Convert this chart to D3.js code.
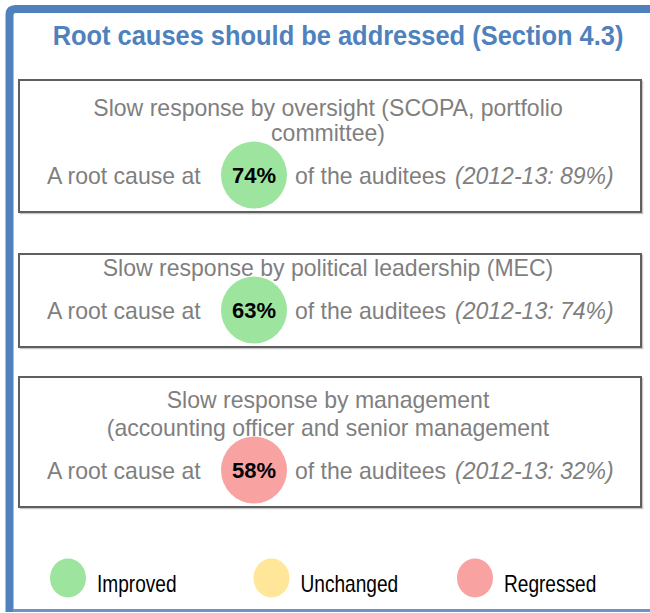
<!DOCTYPE html>
<html>
<head>
<meta charset="utf-8">
<script src="https://cdn.jsdelivr.net/npm/d3@7"></script>
<style>
  html, body { margin: 0; padding: 0; background: #fff; }
  svg { display: block; }
  text { font-family: "Liberation Sans", Arial, sans-serif; }
</style>
</head>
<body>
<svg id="chart" width="650" height="613"></svg>
<script>
// Root causes and the share of auditees where each applies
const titleText = "Root causes should be addressed (Section 4.3)";
const causeLines = [
  ["Slow response by oversight (SCOPA, portfolio", "committee)"],
  ["Slow response by political leadership (MEC)"],
  ["Slow response by management", "(accounting officer and senior management"]
];
const currentPct = [74, 63, 58];
const priorPct = [89, 74, 32];
const priorYear = "2012-13";
const movement = ["Improved", "Improved", "Regressed"];
const legendItems = ["Improved", "Unchanged", "Regressed"];

const color = d3.scaleOrdinal()
  .domain(legendItems)
  .range(["#9de59f", "#ffe699", "#f8a2a2"]);

const svg = d3.select("#chart");
const blue = "#4f81bd";
const grey = "#7f7f7f";

// Condensed text: place at (x, y) and squeeze horizontally by k
function label(parent, x, y, k) {
  return parent.append("text")
    .attr("transform", `translate(${x},${y}) scale(${k},1)`);
}

// Frame: heavy left and top rules, thin bottom rule
svg.append("path")
  .attr("d", "M9.5,612 L9.5,15 Q9.5,9 15.5,9 L660,9")
  .attr("fill", "none").attr("stroke", blue).attr("stroke-width", 8);
svg.append("rect").attr("x", 13).attr("y", 609).attr("width", 640).attr("height", 3)
  .attr("fill", "#6d93c9");

// Title, condensed to its column width
const title = svg.append("text")
  .attr("text-anchor", "middle")
  .attr("font-size", 28).attr("font-weight", "bold")
  .attr("fill", blue)
  .text(titleText);
const titleK = 571 / title.node().getComputedTextLength();
title.attr("transform", `translate(338,45) scale(${titleK},1)`);

// Panel layout: top edge, height and heading line spacing of each box
const boxTop = [80, 254, 377];
const boxH = [132, 93, 130];
const headGap = [25, 0, 28];
const boxX = 19, boxW = 622;
const kBody = 0.96;

const panels = svg.selectAll("g.panel")
  .data(causeLines.map((lines, i) => ({
    lines, cur: currentPct[i], prior: priorPct[i], move: movement[i],
    top: boxTop[i], h: boxH[i], gap: headGap[i]
  })))
  .join("g").attr("class", "panel")
  .attr("transform", d => `translate(0,${d.top})`);

panels.append("rect")
  .attr("x", boxX + 1.5).attr("y", 1.5).attr("width", boxW).attr("height", d => d.h)
  .attr("fill", "none").attr("stroke", "#c8c8c8").attr("stroke-width", 1.5);
panels.append("rect")
  .attr("x", boxX).attr("y", 0).attr("width", boxW).attr("height", d => d.h)
  .attr("fill", "#fff").attr("stroke", "#5f5f5f").attr("stroke-width", 2);

const rowY = d => d.h - 28;

panels.each(function(d) {
  const g = d3.select(this);
  const r = rowY(d);
  const first = r - 43 - (d.lines.length - 1) * d.gap;

  // Cause heading lines
  d.lines.forEach((ln, j) => {
    label(g, 328, first + j * d.gap, kBody)
      .attr("text-anchor", "middle")
      .attr("font-size", 24).attr("fill", grey)
      .text(ln);
  });

  // Statement line
  label(g, 47, r, kBody)
    .attr("font-size", 24).attr("fill", grey)
    .text("A root cause at");

  g.append("ellipse")
    .attr("cx", 254).attr("cy", r - 9)
    .attr("rx", 33).attr("ry", 33.5)
    .attr("fill", color(d.move));

  g.append("text")
    .attr("x", 254).attr("y", r - 1)
    .attr("text-anchor", "middle")
    .attr("font-size", 22).attr("font-weight", "bold").attr("fill", "#000")
    .text(d.cur + "%");

  label(g, 295, r, kBody)
    .attr("font-size", 24).attr("fill", grey)
    .text("of the auditees");

  label(g, 455, r, kBody)
    .attr("font-size", 24).attr("font-style", "italic").attr("fill", grey)
    .text(`(${priorYear}: ${d.prior}%)`);
});

// Legend
const legendX = d3.scalePoint().domain(legendItems).range([68, 475]);
const leg = svg.selectAll("g.leg").data(legendItems).join("g").attr("class", "leg")
  .attr("transform", d => `translate(${legendX(d)},578)`);
leg.append("ellipse").attr("rx", 18).attr("ry", 19.5).attr("fill", d => color(d));
leg.append("text")
  .attr("transform", "translate(29,14) scale(0.83,1)")
  .attr("font-size", 23).attr("fill", "#000")
  .text(d => d);
</script>
</body>
</html>
